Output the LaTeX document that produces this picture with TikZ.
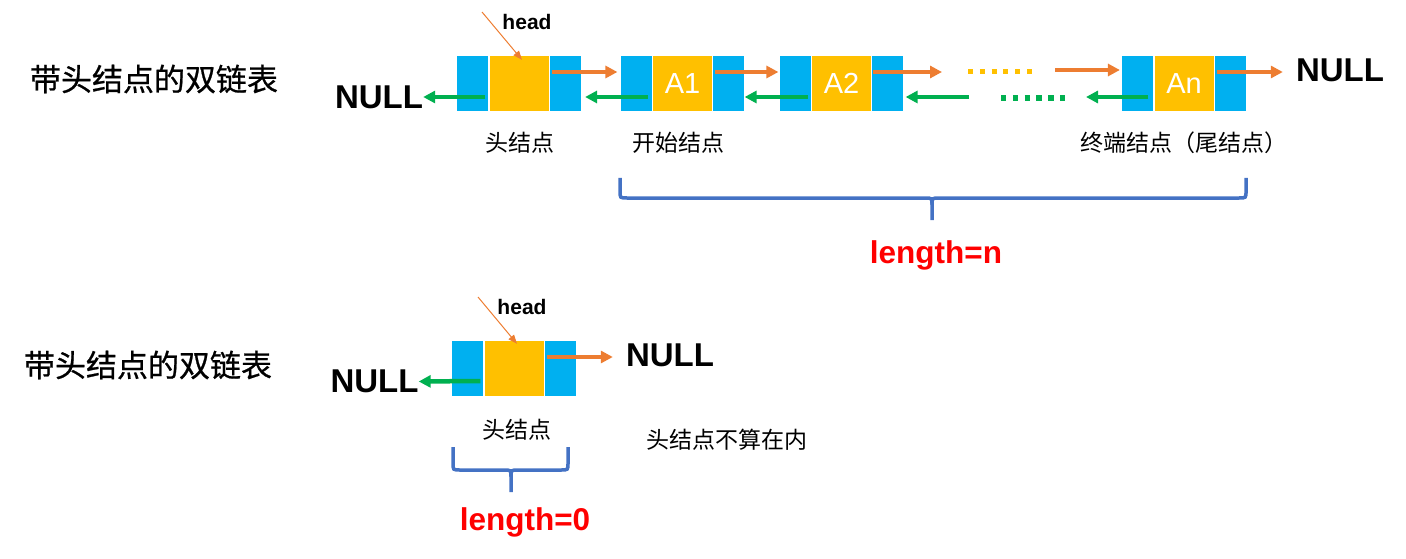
\documentclass[tikz,border=0pt]{standalone}
\usepackage{fontspec}
\setmainfont{Liberation Sans}
\newfontfamily\cjkfont{Noto Sans CJK SC}
\newfontfamily\cjktitlefont{Noto Sans CJK SC}[FakeBold=0.7]
\usetikzlibrary{positioning,arrows.meta}
\definecolor{cellblue}{HTML}{00B0F0}
\definecolor{cellyellow}{HTML}{FFC000}
\definecolor{nextorange}{HTML}{ED7D31}
\definecolor{priorgreen}{HTML}{00B050}
\definecolor{braceblue}{HTML}{4472C4}
\definecolor{lenred}{HTML}{FF0000}
\tikzset{
	datacell/.style={fill=cellyellow,minimum width=59pt,minimum height=55pt,inner sep=0pt,text=white,font=\fontsize{29}{31}\selectfont},
	linkcell/.style={fill=cellblue,minimum width=31pt,minimum height=55pt,inner sep=0pt},
	nextlink/.style={nextorange,line width=4.5pt,-{Triangle[length=12pt,width=12pt]}},
	priorlink/.style={priorgreen,line width=4.5pt,-{Triangle[length=12pt,width=12pt]}},
	nextdots/.style={cellyellow,line width=5pt,dash pattern=on 5pt off 6.8pt},
	priordots/.style={priorgreen,line width=5.3pt,dash pattern=on 5.3pt off 6.5pt},
	headptr/.style={nextorange,line width=1pt,-{Triangle[length=9pt,width=7pt]}},
	headname/.style={inner sep=0pt,font=\fontsize{21}{23}\selectfont\bfseries},
	nullname/.style={inner sep=0pt,font=\fontsize{33}{35}\selectfont\bfseries},
	cntitle/.style={inner sep=0pt,font=\fontsize{31}{33}\selectfont\cjktitlefont},
	cnlabel/.style={inner sep=0pt,font=\fontsize{23}{25}\selectfont\cjkfont},
	lenname/.style={inner sep=0pt,text=lenred,font=\fontsize{31.5}{33}\selectfont\bfseries},
	bracepath/.style={braceblue,line width=3.5pt}
}
\begin{document}
\begin{tikzpicture}[x=1pt,y=-1pt]
	\useasboundingbox (0,0) rectangle (1406,559);
	% list with n data nodes
	\node[cntitle] (titleA) at (154,79) {带头结点的双链表};
	\foreach \n/\x/\t in {h/519/{},a/682.5/A1,b/841.5/A2,z/1184/An}{
		\node[datacell] (\n) at (\x,83.5) {\t};
		\node[linkcell,left=1pt of \n] (\n L) {};
		\node[linkcell,right=1pt of \n] (\n R) {};
	}
	\node[nullname] (nullL) at (379,97) {NULL};
	\node[nullname] (nullR) at (1340,70.5) {NULL};
	\coordinate (hptr) at (482,12);
	\node[headname] (hname) at (527,22) {head};
	\draw[headptr] (hptr) -- ([xshift=3pt,yshift=-4pt]h.north);
	\draw[nextlink] ([xshift=2pt,yshift=11.5pt]hR.west) -- ([xshift=-3pt,yshift=11.5pt]aL.west);
	\draw[priorlink] ([xshift=-4pt,yshift=-13.5pt]aL.east) -- ([xshift=4pt,yshift=-13.5pt]hR.east);
	\draw[priorlink] ([xshift=-3pt,yshift=-13.5pt]hL.east) -- (nullL.east);
	\draw[nextlink] ([xshift=2pt,yshift=11.5pt]aR.west) -- ([xshift=-1pt,yshift=11.5pt]bL.west);
	\draw[priorlink] ([xshift=-3pt,yshift=-13.5pt]bL.east) -- ([yshift=-13.5pt]aR.east);
	% the gap between A2 and An
	\coordinate (gapA) at (942,72);
	\coordinate (gapD) at (1055,70);
	\coordinate (gapE) at (969,97);
	\coordinate (gapF) at (1086,97);
	\draw[nextlink] ([xshift=1pt,yshift=11.5pt]bR.west) -- (gapA);
	\draw[nextdots] (968,71.5) -- (1034,71.5);
	\draw[nextlink] (gapD) -- ([xshift=-2pt,yshift=13.5pt]zL.west);
	\draw[priorlink] (gapE) -- ([xshift=2pt,yshift=-13.5pt]bR.east);
	\draw[priordots] (1001,98) -- (1068,98);
	\draw[priorlink] ([xshift=-5pt,yshift=-13.5pt]zL.east) -- (gapF);
	\draw[nextlink] ([xshift=2pt,yshift=11.5pt]zR.west) -- ([xshift=-13pt,yshift=-1.5pt]nullR.west);
	\node[cnlabel] (hlab) at (520,143) {头结点};
	\node[cnlabel] (alab) at (678,143) {开始结点};
	\node[cnlabel] (zlab) at (1184,143) {终端结点（尾结点）};
	\draw[bracepath] (620,178) -- (620,191) .. controls (620,198) .. (627,198) -- (925,198) .. controls (932,198) .. (932,205) -- (932,220);
	\draw[bracepath] (1246,178) -- (1246,191) .. controls (1246,198) .. (1239,198) -- (939,198) .. controls (932,198) .. (932,205);
	\node[lenname] (lenN) at (936,255) {length=n};
	% empty list
	\node[cntitle] (titleB) at (148,365) {带头结点的双链表};
	\node[datacell] (e) at (514,368.5) {};
	\node[linkcell,left=1pt of e] (eL) {};
	\node[linkcell,right=1pt of e] (eR) {};
	\node[nullname] (nullF) at (374.5,381.5) {NULL};
	\node[nullname] (nullE) at (670,355) {NULL};
	\coordinate (eptr) at (478,297);
	\node[headname] (ename) at (522,307) {head};
	\draw[headptr] (eptr) -- ([xshift=3pt,yshift=-3pt]e.north);
	\draw[nextlink] ([xshift=2pt,yshift=11.5pt]eR.west) -- ([xshift=-13pt,yshift=-2pt]nullE.west);
	\draw[priorlink] ([xshift=-3pt,yshift=-12.5pt]eL.east) -- (nullF.east);
	\node[cnlabel] (elab) at (517,430) {头结点};
	\node[cnlabel] (enote) at (727,440) {头结点不算在内};
	\draw[bracepath] (453,447) -- (453,463) .. controls (453,470) .. (460,470) -- (504,470) .. controls (511,470) .. (511,477) -- (511,492);
	\draw[bracepath] (568,447) -- (568,463) .. controls (568,470) .. (561,470) -- (518,470) .. controls (511,470) .. (511,477);
	\node[lenname] (lenZ) at (525,522) {length=0};
\end{tikzpicture}
\end{document}
